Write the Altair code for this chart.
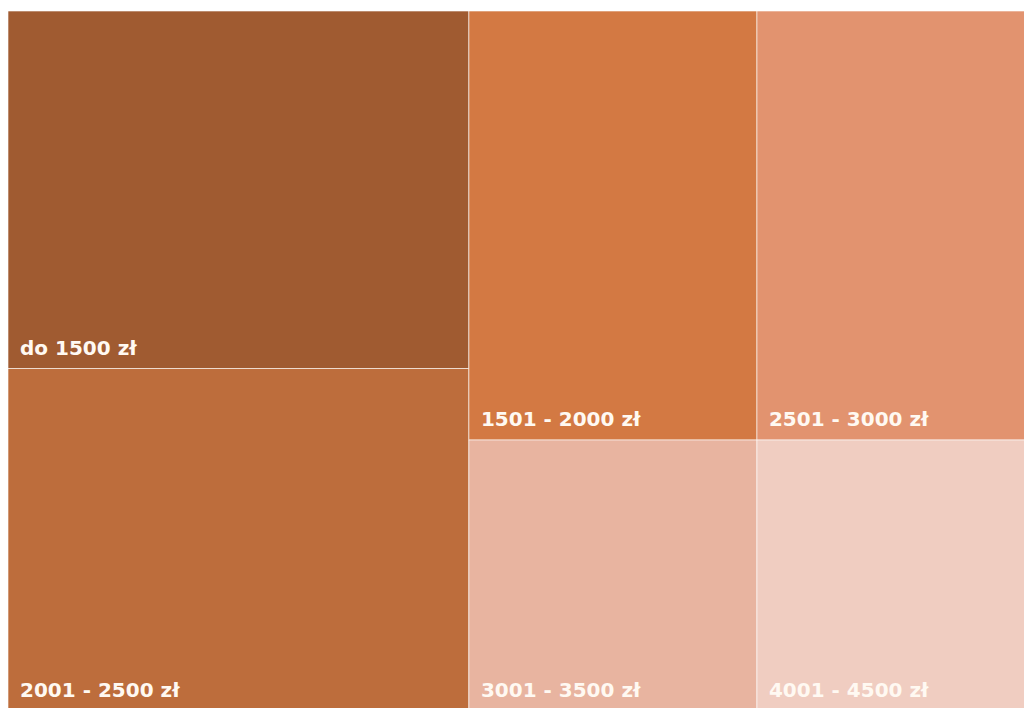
import altair as alt
import pandas as pd

# Treemap categories grouped by column (left, middle, right), top then bottom
col_left = ["do 1500 zł", "2001 - 2500 zł"]
col_mid = ["1501 - 2000 zł", "3001 - 3500 zł"]
col_right = ["2501 - 3000 zł", "4001 - 4500 zł"]
val_left = [24, 24]
val_mid = [18, 12]
val_right = [18, 12]
colors = ["#A05B31", "#BD6D3C", "#D37943", "#E8B4A0", "#E2936F", "#F0CDC1"]

rows = []
x_start = 0
for cats, vals in [(col_left, val_left), (col_mid, val_mid), (col_right, val_right)]:
    total = sum(vals)
    y_start = 0.0
    for i, (c, v) in enumerate(zip(cats, vals)):
        rows.append({"cat": c, "value": v, "row": i, "x0": x_start, "x1": x_start + total,
                     "y0": y_start, "y1": y_start + v / total})
        y_start += v / total
    x_start += total

df = pd.DataFrame(rows)
total_all = x_start
order = list(df["cat"])

# full treemap extent (partly beyond the visible view, clipped)
FULL_W, FULL_H = 1037, 715
W, H = 1016, 697
xs = alt.Scale(domain=[0, total_all], range=[0, FULL_W], nice=False, zero=False)
ys = alt.Scale(domain=[0, 1], range=[0, FULL_H], nice=False, zero=False)

base = alt.Chart(df)
rects = base.mark_rect(stroke="white", strokeWidth=1, strokeOpacity=0.6, clip=True).encode(
    x=alt.X("x0:Q", scale=xs, axis=None),
    x2="x1:Q",
    y=alt.Y("y0:Q", scale=ys, axis=None),
    y2="y1:Q",
    color=alt.Color("cat:N", scale=alt.Scale(domain=order, range=colors), legend=None),
)
text_style = dict(align="left", baseline="alphabetic", dx=12, clip=True,
                  font="DejaVu Sans", fontWeight="bold", fontSize=20, color="#FFF9F2")
enc = dict(x=alt.X("x0:Q", scale=xs, axis=None),
           y=alt.Y("y1:Q", scale=ys, axis=None),
           text="cat:N")
labels_top = base.transform_filter("datum.row == 0").mark_text(dy=-14, **text_style).encode(**enc)
labels_bottom = base.transform_filter("datum.row == 1").mark_text(dy=-29, **text_style).encode(**enc)

chart = (rects + labels_top + labels_bottom).properties(
    width=W, height=H,
    padding={"left": 0, "top": 3, "right": 0, "bottom": 0},
    autosize=alt.AutoSizeParams(type="none"),
).configure_view(stroke=None)

chart.save("out.html", embed_options={"renderer": "svg", "actions": False})
